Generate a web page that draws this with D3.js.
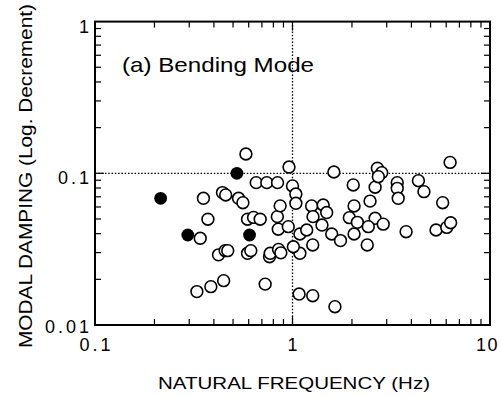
<!DOCTYPE html>
<html><head><meta charset="utf-8">
<script src="https://cdn.jsdelivr.net/npm/d3@7"></script>
<style>body{margin:0;background:#fff}svg{display:block}text{font-family:"Liberation Sans",Arial,sans-serif;fill:#000}</style>
</head><body>
<script>
const openFreq = [0.354,0.373,0.341,0.328,0.386,0.448,0.422,0.456,0.470,0.442,0.459,0.533,0.561,0.581,0.592,0.635,0.686,0.592,0.615,0.655,0.741,0.840,0.765,0.771,0.727,0.850,0.873,0.838,0.866,0.847,0.952,0.960,1.00,1.04,1.04,1.09,1.18,1.25,1.27,1.43,1.49,1.41,1.266,1.09,1.01,1.08,1.266,1.64,1.62,1.58,1.75,2.03,2.05,1.94,2.13,2.05,2.39,2.47,2.62,2.69,2.83,2.72,2.62,2.42,2.88,3.39,3.39,3.43,3.76,4.34,4.63,5.76,5.33,6.04,6.32,6.28];
const openDamp = [0.0684,0.0498,0.0373,0.0166,0.0179,0.0196,0.0290,0.0309,0.0309,0.0746,0.0720,0.0684,0.0640,0.134,0.0498,0.0512,0.0498,0.0297,0.0309,0.0868,0.0868,0.0868,0.0282,0.0297,0.0186,0.0315,0.0299,0.0518,0.0610,0.0428,0.0445,0.110,0.0825,0.0730,0.0634,0.0398,0.0423,0.0609,0.0518,0.0618,0.0551,0.0456,0.0337,0.0297,0.0328,0.0160,0.0156,0.0132,0.102,0.0398,0.0360,0.0838,0.0609,0.0510,0.0475,0.0398,0.0337,0.0656,0.0810,0.108,0.101,0.095,0.0505,0.0445,0.0462,0.0867,0.0796,0.0684,0.0412,0.0894,0.0757,0.0640,0.0423,0.0440,0.0472,0.118];
const filledFreq = [0.215,0.295,0.523,0.606];
const filledDamp = [0.0684,0.0392,0.100,0.0392];
const xTickLabels = ["0.1","1","10"];
const yTickLabels = ["0.01","0.1","1"];
const xTitle = "NATURAL FREQUENCY  (Hz)";
const yTitle = "MODAL DAMPING  (Log. Decrement)";
const panelLabel = "(a) Bending Mode";

const W=501,H=397;
const L=95,R=490,T=21.6,B=325;
const svg=d3.select("body").append("svg").attr("width",W).attr("height",H);
const x=d3.scaleLog().domain([0.1,10]).range([L,R]);
const y=d3.scaleLog().domain([0.01,1]).range([B,T]);

// minor/major ticks
const xt=[],yt=[];
[0.1,1].forEach(d=>{for(let k=1;k<10;k++)xt.push(d*k);});
[0.01,0.1].forEach(d=>{for(let k=1;k<10;k++)yt.push(d*k);});
const g=svg.append("g").attr("stroke","#000").attr("stroke-width",1.2);
xt.slice(1).forEach(v=>{
  const len = (Math.abs(v-1)<1e-9)?9:6;
  g.append("line").attr("x1",x(v)).attr("x2",x(v)).attr("y1",B).attr("y2",B-len);
  g.append("line").attr("x1",x(v)).attr("x2",x(v)).attr("y1",T).attr("y2",T+len);
});
yt.slice(1).forEach(v=>{
  const len = (Math.abs(v-0.1)<1e-9)?9:6;
  g.append("line").attr("y1",y(v)).attr("y2",y(v)).attr("x1",L).attr("x2",L+len);
  g.append("line").attr("y1",y(v)).attr("y2",y(v)).attr("x1",R).attr("x2",R-len);
});

// reference dotted lines
svg.append("line").attr("x1",x(1)).attr("x2",x(1)).attr("y1",T).attr("y2",B)
  .attr("stroke","#000").attr("stroke-width",1.3).attr("stroke-dasharray","1.5,1.8");
svg.append("line").attr("x1",L).attr("x2",R).attr("y1",y(0.1)).attr("y2",y(0.1))
  .attr("stroke","#000").attr("stroke-width",1.3).attr("stroke-dasharray","1.5,1.8");

// frame
svg.append("rect").attr("x",L).attr("y",T).attr("width",R-L).attr("height",B-T)
  .attr("fill","none").attr("stroke","#000").attr("stroke-width",2);

// points
const open=openFreq.map((f,i)=>({f,d:openDamp[i]}));
const filled=filledFreq.map((f,i)=>({f,d:filledDamp[i]}));
svg.append("g").selectAll("circle").data(open).join("circle")
  .attr("cx",d=>x(d.f)).attr("cy",d=>y(d.d)).attr("r",5.9)
  .attr("fill","#fff").attr("stroke","#000").attr("stroke-width",1.6);
svg.append("g").selectAll("circle").data(filled).join("circle")
  .attr("cx",d=>x(d.f)).attr("cy",d=>y(d.d)).attr("r",6.4)
  .attr("fill","#000");

// tick labels
const xv=[0.1,1,10];
svg.append("g").selectAll("text").data(xTickLabels).join("text")
  .attr("x",(d,i)=>i===2?499:x(xv[i])+1.5).attr("y",351)
  .attr("text-anchor",(d,i)=>i===2?"end":"middle")
  .attr("font-size",18).attr("letter-spacing",(d,i)=>i===2?1.5:3).text(d=>d);
const yv=[0.01,0.1,1];
svg.append("g").selectAll("text").data(yTickLabels).join("text")
  .attr("x",92).attr("y",(d,i)=>y(yv[i])+(i===0?8:11)).attr("text-anchor","end")
  .attr("font-size",18).attr("letter-spacing",3).text(d=>d);

// titles
svg.append("text").attr("x",158).attr("y",389).attr("font-size",17)
  .attr("textLength",272).attr("lengthAdjust","spacingAndGlyphs").text(xTitle);
svg.append("text").attr("transform",`translate(32,348) rotate(-90)`)
  .attr("font-size",18).attr("textLength",344).attr("lengthAdjust","spacingAndGlyphs").text(yTitle);
svg.append("text").attr("x",122).attr("y",72).attr("font-size",21)
  .attr("textLength",192).attr("lengthAdjust","spacingAndGlyphs").text(panelLabel);
</script>
</body></html>
